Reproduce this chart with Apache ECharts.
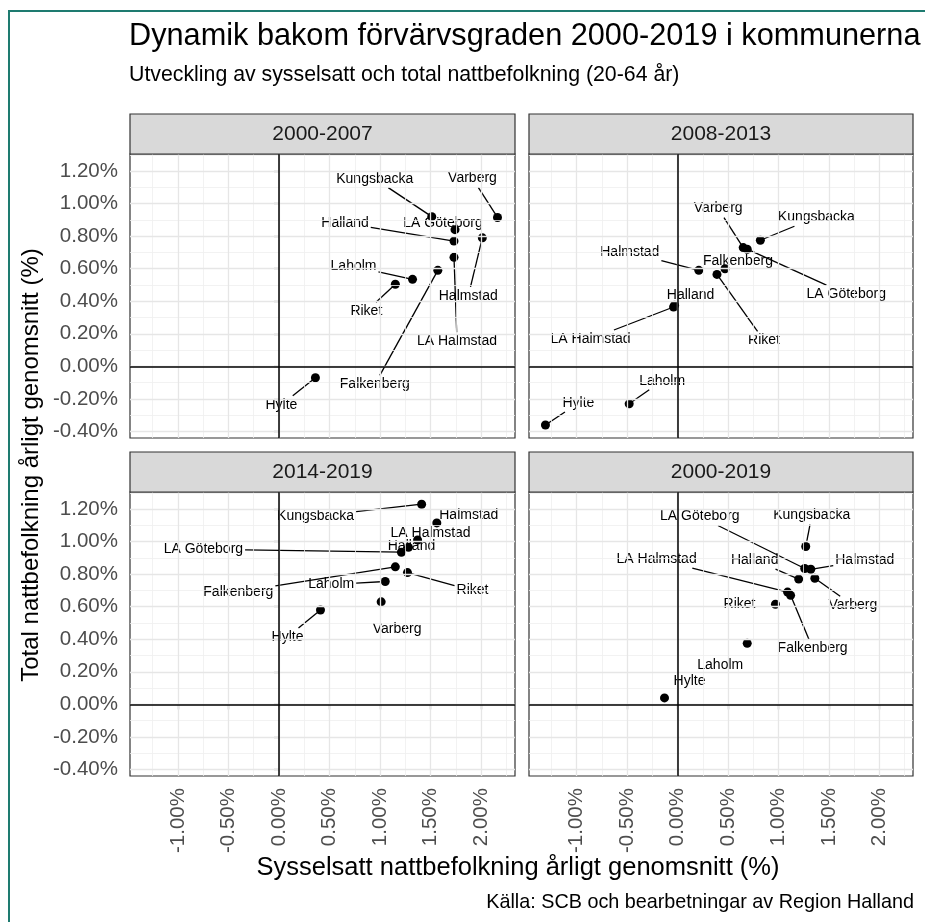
<!DOCTYPE html>
<html><head><meta charset="utf-8">
<script src="https://cdn.jsdelivr.net/npm/echarts@6/dist/echarts.min.js"></script>
<style>html,body{margin:0;padding:0;background:#fff}#c{width:925px;height:922px}</style>
</head><body><div id="c"></div>
<script>
// ---------------- DATA ----------------
const municipalities = ['Falkenberg','Halland','Halmstad','Hylte','Kungsbacka','LA Göteborg','LA Halmstad','Laholm','Riket','Varberg'];
const periods = ['2000-2007','2008-2013','2014-2019','2000-2019'];
// x: Sysselsatt nattbefolkning (%), y: Total nattbefolkning (%)
const x_2000_2007 = [1.57, 1.73, 2.01, 0.36, 1.51, 1.74, 1.73, 1.32, 1.15, 2.16];
const y_2000_2007 = [0.59, 0.77, 0.79, -0.07, 0.92, 0.84, 0.67, 0.535, 0.505, 0.915];
const x_2008_2013 = [0.47, -0.03, 0.21, -1.31, 0.82, 0.69, -0.04, -0.48, 0.39, 0.65];
const y_2008_2013 = [0.60, 0.375, 0.59, -0.36, 0.775, 0.72, 0.365, -0.23, 0.565, 0.73];
const x_2014_2019 = [1.15, 1.28, 1.56, 0.41, 1.41, 1.21, 1.37, 1.05, 1.27, 1.01];
const y_2014_2019 = [0.845, 0.965, 1.115, 0.58, 1.23, 0.935, 1.01, 0.755, 0.81, 0.63];
const x_2000_2019 = [1.12, 1.20, 1.32, -0.13, 1.27, 1.26, 1.09, 0.69, 0.97, 1.36];
const y_2000_2019 = [0.67, 0.77, 0.83, 0.04, 0.97, 0.835, 0.69, 0.375, 0.615, 0.775];
const xTicks = [-1, -0.5, 0, 0.5, 1, 1.5, 2];
const yTicks = [-0.4, -0.2, 0, 0.2, 0.4, 0.6, 0.8, 1.0, 1.2];
const xMinorBreaks = [-1.25, -0.75, -0.25, 0.25, 0.75, 1.25, 1.75, 2.25];
const yMinorBreaks = [-0.3, -0.1, 0.1, 0.3, 0.5, 0.7, 0.9, 1.1, 1.3];
const xLimits = [-1.473, 2.333];
const yLimits = [-0.44, 1.305];

// ---------------- LAYOUT / STYLE ----------------
const FONT = '"Liberation Sans", Arial, Helvetica, sans-serif';
const LABEL_FONT = '14px ' + FONT;
const seriesX = [x_2000_2007, x_2008_2013, x_2014_2019, x_2000_2019];
const seriesY = [y_2000_2007, y_2008_2013, y_2014_2019, y_2000_2019];
const panels = [
  {left:130, top:154, width:385, height:284},
  {left:529, top:154, width:384, height:284},
  {left:130, top:492, width:385, height:284},
  {left:529, top:492, width:384, height:284}
];
// repel-style label nudges [dx, dy, segment] in px, per municipality order
const labelNudge = [
  [[-63,114,1],[-109,-18,1],[-14,58,1],[-34,27,1],[-57,-38,1],[-12,-7,0],[3,84,1],[-59,-13,1],[-29,27,1],[-25,-39,1]],
  [[13,-8,0],[16,-10,0],[-69,-18,1],[33,-22,1],[56,-23,1],[99,45,1],[-83,32,1],[33,-23,1],[47,66,1],[-25,-39,1]],
  [[-157,25,1],[3,-1,0],[32,-8,0],[-33,27,1],[-106,12,1],[-198,-3,1],[13,-7,0],[-54,3,1],[65,18,1],[16,27,0]],
  [[22,53,1],[-44,-19,1],[54,-9,1],[25,-17,0],[6,-31,1],[-105,-52,1],[-131,-33,1],[-27,22,0],[-36,0,0],[38,27,1]]
];

const measureCtx = document.createElement('canvas').getContext('2d');
measureCtx.font = LABEL_FONT;
const textW = s => measureCtx.measureText(s).width;

const pct = v => v.toFixed(2) + '%';
const grids = [], xAxes = [], yAxes = [], series = [], graphics = [];

panels.forEach((p, i) => {
  const bottomRow = i >= 2, leftCol = i % 2 === 0;
  grids.push({left:p.left, top:p.top, width:p.width, height:p.height, show:true,
    backgroundColor:'#ffffff', borderColor:'#333333', borderWidth:1.2, containLabel:false});
  xAxes.push({type:'value', gridIndex:i, min:xLimits[0], max:xLimits[1],
    axisLine:{show:false}, splitLine:{show:false},
    axisTick:{show:bottomRow, length:5, customValues:xTicks, lineStyle:{color:'#333333', width:1.2}},
    axisLabel:{show:bottomRow, customValues:xTicks, rotate:90, margin:12, formatter:pct,
      color:'#4D4D4D', fontSize:20.5, fontFamily:FONT}});
  yAxes.push({type:'value', gridIndex:i, min:yLimits[0], max:yLimits[1],
    axisLine:{show:false}, splitLine:{show:false},
    axisTick:{show:leftCol, length:5, customValues:yTicks, lineStyle:{color:'#333333', width:1.2}},
    axisLabel:{show:leftCol, customValues:yTicks, margin:12, formatter:pct,
      color:'#4D4D4D', fontSize:20.5, fontFamily:FONT}});

  const ml = [];
  xMinorBreaks.forEach(v => ml.push({xAxis:v, lineStyle:{color:'#EFEFEF', width:0.8, type:'solid'}}));
  yMinorBreaks.forEach(v => ml.push({yAxis:v, lineStyle:{color:'#EFEFEF', width:0.8, type:'solid'}}));
  xTicks.forEach(v => ml.push({xAxis:v, lineStyle:{color:'#E6E6E6', width:1.3, type:'solid'}}));
  yTicks.forEach(v => ml.push({yAxis:v, lineStyle:{color:'#E6E6E6', width:1.3, type:'solid'}}));
  ml.push({xAxis:0, lineStyle:{color:'#000000', width:1.5, type:'solid'}});
  ml.push({yAxis:0, lineStyle:{color:'#000000', width:1.5, type:'solid'}});

  const pts = municipalities.map((n, k) => [seriesX[i][k], seriesY[i][k]]);
  // gridlines + zero lines
  series.push({type:'scatter', xAxisIndex:i, yAxisIndex:i, z:1, silent:true, symbolSize:0,
    data:pts, animation:false,
    markLine:{silent:true, symbol:['none','none'], label:{show:false}, animation:false, data:ml}});

  // repelled labels with segments
  series.push({type:'custom', xAxisIndex:i, yAxisIndex:i, z:2, silent:true, animation:false, clip:false,
    data: municipalities.map((n, k) => ({name:n, value:pts[k]})),
    renderItem: function (params, api) {
      const k = params.dataIndex;
      const name = municipalities[k];
      const c = api.coord([api.value(0), api.value(1)]);
      const n = labelNudge[i][k];
      const tx = c[0] + n[0], ty = c[1] + n[1];
      const children = [];
      if (n[2]) {
        const hw = textW(name) / 2 + 2, hh = 9;
        const dx = c[0] - tx, dy = c[1] - ty;
        const t = Math.min(dx !== 0 ? hw / Math.abs(dx) : Infinity, dy !== 0 ? hh / Math.abs(dy) : Infinity);
        const ex = tx + dx * t, ey = ty + dy * t;
        children.push({type:'line', shape:{x1:c[0], y1:c[1], x2:ex, y2:ey},
          style:{stroke:'#000000', lineWidth:1.3}});
      }
      children.push({type:'text', x:tx, y:ty, z2:5,
        style:{text:name, font:LABEL_FONT, fill:'#000000', align:'center', verticalAlign:'middle',
          textAlign:'center', textVerticalAlign:'middle'}});
      return {type:'group', children:children};
    }
  });

  // points
  series.push({type:'scatter', xAxisIndex:i, yAxisIndex:i, z:3, symbolSize:9, animation:false,
    itemStyle:{color:'#000000', opacity:1}, label:{show:false},
    data: municipalities.map((n, k) => ({name:n, value:pts[k]}))
  });

  // facet strip
  graphics.push({type:'rect', shape:{x:p.left, y:p.top - 40, width:p.width, height:40},
    style:{fill:'#D9D9D9', stroke:'#333333', lineWidth:1.2}, z:10});
  graphics.push({type:'text', x:p.left + p.width/2, y:p.top - 20, z:11,
    style:{text:periods[i], font:'21px ' + FONT, fill:'#1A1A1A', textAlign:'center', textVerticalAlign:'middle', align:'center', verticalAlign:'middle'}});
});

graphics.push({type:'rect', shape:{x:9, y:11, width:1000, height:1000},
  style:{fill:'none', stroke:'#1E7B70', lineWidth:2}, z:20});
graphics.push({type:'text', x:129, y:37, style:{text:'Dynamik bakom förvärvsgraden 2000-2019 i kommunerna',
  font:'30.7px ' + FONT, fill:'#000', textAlign:'left', textVerticalAlign:'middle', align:'left', verticalAlign:'middle'}});
graphics.push({type:'text', x:129, y:75, style:{text:'Utveckling av sysselsatt och total nattbefolkning (20-64 år)',
  font:'21.3px ' + FONT, fill:'#000', textAlign:'left', textVerticalAlign:'middle', align:'left', verticalAlign:'middle'}});
graphics.push({type:'text', x:31, y:465, rotation:Math.PI/2, style:{text:'Total nattbefolkning årligt genomsnitt (%)',
  font:'24px ' + FONT, fill:'#000', textAlign:'center', textVerticalAlign:'middle', align:'center', verticalAlign:'middle'}});
graphics.push({type:'text', x:518, y:868, style:{text:'Sysselsatt nattbefolkning årligt genomsnitt (%)',
  font:'25.5px ' + FONT, fill:'#000', textAlign:'center', textVerticalAlign:'middle', align:'center', verticalAlign:'middle'}});
graphics.push({type:'text', x:914, y:903, style:{text:'Källa: SCB och bearbetningar av Region Halland',
  font:'19.8px ' + FONT, fill:'#000', textAlign:'right', textVerticalAlign:'middle', align:'right', verticalAlign:'middle'}});

const chart = echarts.init(document.getElementById('c'), null, {renderer:'canvas'});
chart.setOption({
  animation:false,
  backgroundColor:'#ffffff',
  textStyle:{fontFamily:FONT},
  grid:grids, xAxis:xAxes, yAxis:yAxes, series:series,
  graphic:{elements:graphics}
});
</script></body></html>
